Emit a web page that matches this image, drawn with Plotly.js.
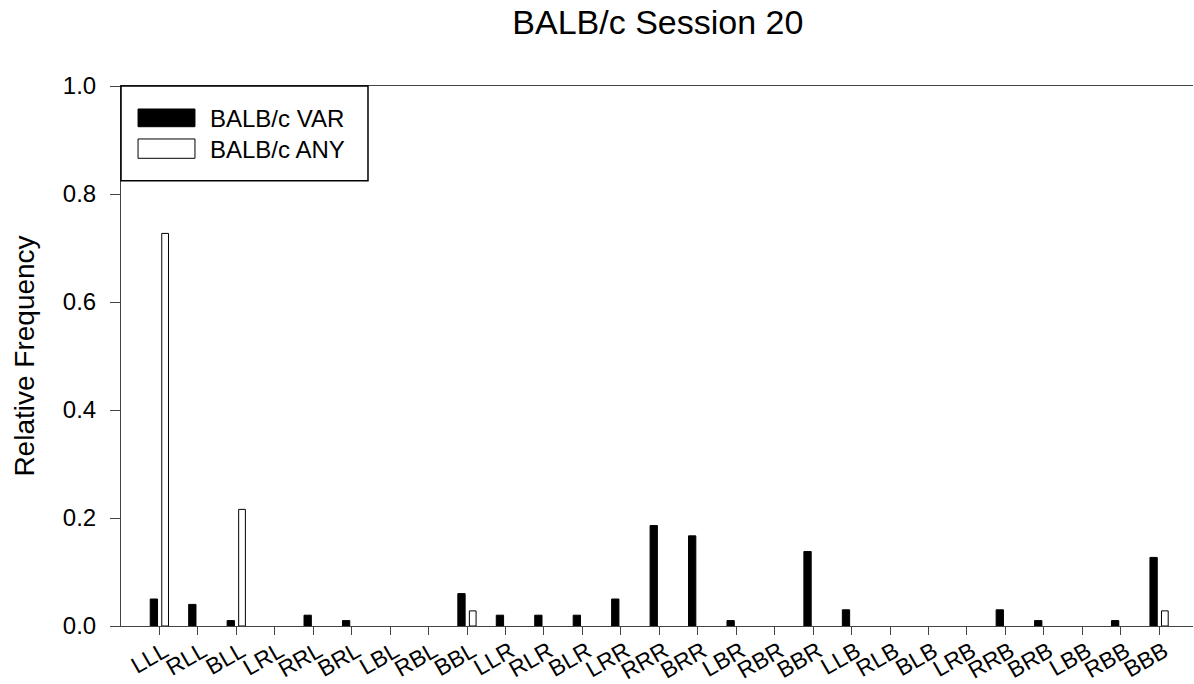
<!DOCTYPE html>
<html>
<head>
<meta charset="utf-8">
<script src="https://cdn.plot.ly/plotly-3.0.1.min.js"></script>
<style>html,body{margin:0;padding:0;background:#fff;}#chart{width:1194px;height:684px;}</style>
</head>
<body>
<div id="chart"></div>
<script>
const categories = ["LLL","RLL","BLL","LRL","RRL","BRL","LBL","RBL","BBL","LLR","RLR","BLR","LRR","RRR","BRR","LBR","RBR","BBR","LLB","RLB","BLB","LRB","RRB","BRB","LBB","RBB","BBB"];
const varValues = [0.05,0.04,0.01,0,0.02,0.01,0,0,0.06,0.02,0.02,0.02,0.05,0.186,0.167,0.01,0,0.138,0.03,0,0,0,0.03,0.01,0,0.01,0.127];
const anyValues = [0.727,0,0.216,0,0,0,0,0,0.028,0,0,0,0,0,0,0,0,0,0,0,0,0,0,0,0,0,0.028];
const seriesNames = ["BALB/c VAR","BALB/c ANY"];
const yTicks = [0,0.2,0.4,0.6,0.8,1.0];
const yTickText = ["0.0","0.2","0.4","0.6","0.8","1.0"];

const FONT = "Liberation Sans, Arial, sans-serif";

// hide outline of empty (zero) bars so nothing is drawn for them
const outlineFor = vals => vals.map(v => v > 0 ? 1 : 0);

const traces = [
  {type:"bar", x:categories, y:varValues, name:seriesNames[0], offset:-0.24, width:0.19,
   marker:{color:"#000", line:{color:"#000", width:outlineFor(varValues)}}, showlegend:false},
  {type:"bar", x:categories, y:anyValues, name:seriesNames[1], offset:0.06, width:0.175,
   marker:{color:"#fff", line:{color:"#000", width:outlineFor(anyValues)}}, showlegend:false}
];

const layout = {
  width:1194, height:684,
  margin:{l:121, r:1, t:86, b:58},
  paper_bgcolor:"#fff", plot_bgcolor:"#fff",
  barmode:"group",
  font:{family:FONT, color:"#000", size:24},
  title:{text:"BALB/c Session 20", font:{family:FONT, size:34, color:"#000"}, x:0.551, xanchor:"center", y:0.967, yanchor:"middle"},
  xaxis:{type:"category", range:[-1,26.88], showgrid:false, zeroline:false,
    showline:true, linecolor:"#444", linewidth:1, mirror:true,
    ticks:"outside", ticklen:8, tickcolor:"#444", tickwidth:1,
    ticklabelstandoff:-6, ticklabelshift:5,
    tickangle:-30, tickfont:{family:FONT, size:23, color:"#000"}},
  yaxis:{range:[0,1.0], showgrid:false, zeroline:false,
    showline:true, linecolor:"#444", linewidth:1,
    ticks:"outside", ticklen:10, tickcolor:"#444", tickwidth:1,
    ticklabelstandoff:9,
    tickvals:yTicks, ticktext:yTickText,
    tickfont:{family:FONT, size:24, color:"#000"},
    title:{text:"Relative Frequency", font:{family:FONT, size:28, color:"#000"}, standoff:20}},
  shapes:[
    {type:"rect", xref:"paper", yref:"paper", x0:0, x1:0.2304, y0:0.8246, y1:1.0, line:{color:"#000", width:1.5}, fillcolor:"#fff", layer:"above"},
    {type:"rect", xref:"paper", yref:"paper", x0:0.0159, x1:0.0690, y0:0.9246, y1:0.9574, line:{color:"#000", width:1}, fillcolor:"#000", layer:"above"},
    {type:"rect", xref:"paper", yref:"paper", x0:0.0159, x1:0.0690, y0:0.8661, y1:0.9019, line:{color:"#000", width:1}, fillcolor:"#fff", layer:"above"}
  ],
  annotations:[
    {xref:"paper", yref:"paper", x:0.0812, y:0.9407, xanchor:"left", yanchor:"middle", text:seriesNames[0], showarrow:false, font:{family:FONT, size:24, color:"#000"}},
    {xref:"paper", yref:"paper", x:0.0812, y:0.8833, xanchor:"left", yanchor:"middle", text:seriesNames[1], showarrow:false, font:{family:FONT, size:24, color:"#000"}}
  ]
};

Plotly.newPlot("chart", traces, layout, {staticPlot:true, displayModeBar:false});
</script>
</body>
</html>
